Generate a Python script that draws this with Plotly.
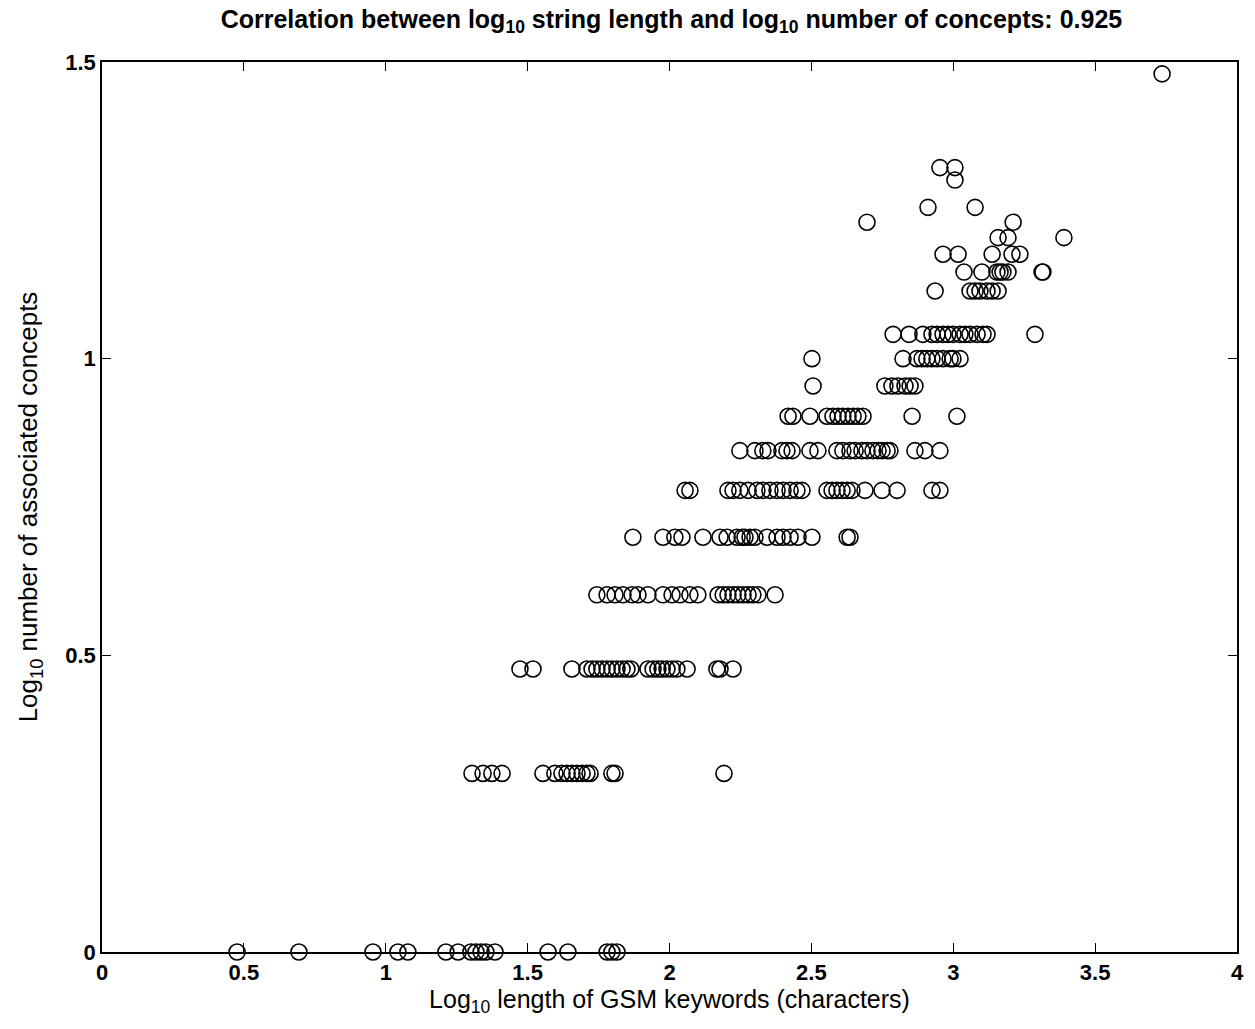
import plotly.graph_objects as go

# x values (log10 string length) for each y level (log10 number of concepts)
x_c1 = [0.476, 0.694, 0.955, 1.043, 1.078, 1.212, 1.255, 1.30, 1.318, 1.336, 1.353, 1.385,
        1.572, 1.642, 1.78, 1.797, 1.815]
x_c2 = [1.304, 1.343, 1.374, 1.410, 1.554, 1.596, 1.621, 1.639, 1.656, 1.674, 1.692, 1.709,
        1.720, 1.797, 1.808, 2.192]
x_c3 = [1.473, 1.519, 1.656, 1.709, 1.727, 1.744, 1.762, 1.780, 1.797, 1.815, 1.833, 1.850,
        1.864, 1.924, 1.942, 1.959, 1.974, 1.991, 2.009, 2.026, 2.062, 2.167, 2.178, 2.224]
x_c4 = [1.744, 1.780, 1.808, 1.836, 1.868, 1.889, 1.924, 1.977, 2.009, 2.037, 2.072, 2.100,
        2.171, 2.189, 2.206, 2.224, 2.241, 2.259, 2.277, 2.294, 2.312, 2.372]
x_c5 = [1.871, 1.977, 2.019, 2.044, 2.118, 2.178, 2.203, 2.238, 2.256, 2.266, 2.284, 2.301,
        2.344, 2.379, 2.400, 2.425, 2.453, 2.502, 2.626, 2.636]
x_c6 = [2.055, 2.072, 2.206, 2.224, 2.248, 2.277, 2.308, 2.329, 2.354, 2.379, 2.400, 2.425,
        2.449, 2.467, 2.555, 2.573, 2.590, 2.608, 2.626, 2.643, 2.689, 2.749, 2.802, 2.925, 2.953]
x_c7 = [2.248, 2.301, 2.329, 2.347, 2.396, 2.414, 2.432, 2.495, 2.523, 2.590, 2.611, 2.636,
        2.654, 2.678, 2.696, 2.717, 2.735, 2.749, 2.767, 2.777, 2.865, 2.900, 2.953]
x_c8 = [2.418, 2.435, 2.495, 2.555, 2.576, 2.594, 2.611, 2.629, 2.647, 2.664, 2.682, 2.855, 3.013]
x_c9 = [2.506, 2.759, 2.784, 2.805, 2.830, 2.848, 2.865]
x_c10 = [2.502, 2.823, 2.872, 2.890, 2.907, 2.925, 2.943, 2.964, 2.989, 2.999, 3.024]
x_c11 = [2.788, 2.844, 2.893, 2.925, 2.943, 2.964, 2.981, 2.999, 3.024, 3.041, 3.059, 3.084,
         3.105, 3.119, 3.288]
x_c13 = [2.936, 3.059, 3.077, 3.094, 3.119, 3.137, 3.158]
x_c14 = [3.038, 3.101, 3.154, 3.165, 3.175, 3.193, 3.313, 3.316]
x_c15 = [2.964, 3.017, 3.137, 3.207, 3.235]
x_c16 = [3.158, 3.193, 3.390]
x_c17 = [2.696, 3.211]
x_c18 = [2.911, 3.077]
x_c20 = [3.006]
x_c21 = [2.953, 3.006]
x_c30 = [3.736]

y_levels = [0.0, 0.301, 0.477, 0.602, 0.699, 0.778, 0.845, 0.903, 0.954, 1.0, 1.041,
            1.114, 1.146, 1.176, 1.204, 1.230, 1.255, 1.301, 1.322, 1.48]
x_rows = [x_c1, x_c2, x_c3, x_c4, x_c5, x_c6, x_c7, x_c8, x_c9, x_c10, x_c11,
          x_c13, x_c14, x_c15, x_c16, x_c17, x_c18, x_c20, x_c21, x_c30]

xs, ys = [], []
for yl, row in zip(y_levels, x_rows):
    xs.extend(row)
    ys.extend([yl] * len(row))

x_ticks = [0, 0.5, 1, 1.5, 2, 2.5, 3, 3.5, 4]
y_ticks = [0, 0.5, 1, 1.5]

fig = go.Figure(go.Scatter(
    x=xs, y=ys, mode="markers",
    marker=dict(symbol="circle-open", size=16, color="black", line=dict(width=1.6, color="black")),
    cliponaxis=False, showlegend=False,
))

font_family = "Liberation Sans, Arial, Helvetica, sans-serif"
axis_common = dict(
    showgrid=False, zeroline=False, showline=True, linecolor="black", linewidth=1.6,
    mirror="ticks", ticks="inside", ticklen=9, tickwidth=1, tickcolor="black",
    tickfont=dict(family=font_family, size=22, color="black", weight="bold"),
)

fig.update_layout(
    width=1255, height=1029,
    margin=dict(l=102, r=18, t=62, b=77),
    paper_bgcolor="white", plot_bgcolor="white",
    font=dict(family=font_family, color="black"),
    title=dict(
        text="<b>Correlation between log<sub>10</sub> string length and log<sub>10</sub> number of concepts: 0.925</b>",
        x=0.535, xanchor="center", y=0.99, yanchor="top",
        font=dict(family=font_family, size=25, color="black"),
    ),
    xaxis=dict(range=[0, 4], tickvals=x_ticks, ticktext=[f"{v:g}" for v in x_ticks],
               title=dict(text="Log<sub>10</sub> length of GSM keywords (characters)",
                          font=dict(family=font_family, size=25, color="black"), standoff=2),
               **axis_common),
    yaxis=dict(range=[0, 1.5], tickvals=y_ticks, ticktext=[f"{v:g}" for v in y_ticks],
               title=dict(text="Log<sub>10</sub> number of associated concepts",
                          font=dict(family=font_family, size=26, color="black"), standoff=20),
               **axis_common),
)

fig.write_html("out.html")
